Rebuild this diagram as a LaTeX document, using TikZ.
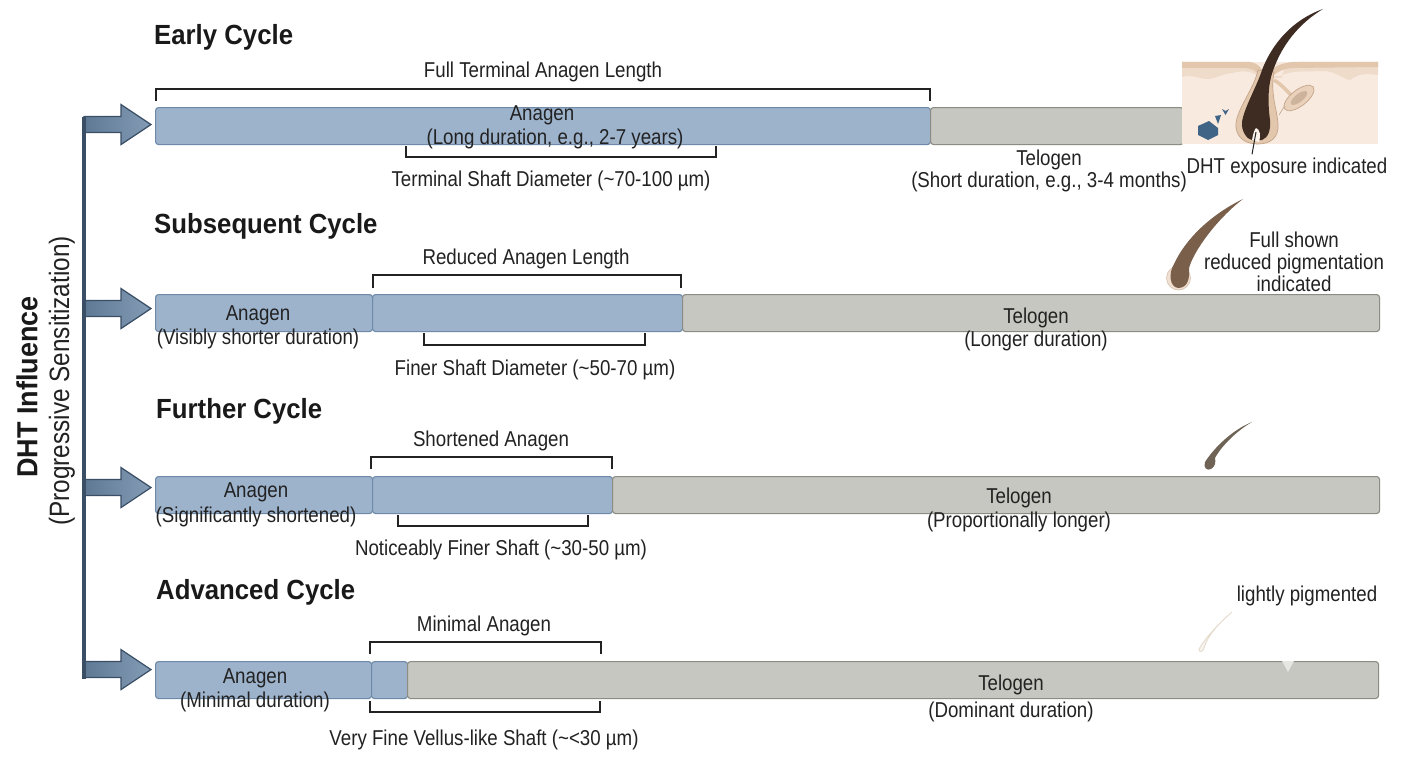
\documentclass[tikz,border=0pt]{standalone}
\usepackage{fontspec}
\usetikzlibrary{calc}
\setmainfont{Liberation Sans}
\newfontfamily\lblfont[FakeStretch=0.87]{Liberation Sans}
\newfontfamily\headfont[FakeStretch=0.93]{Liberation Sans}
\definecolor{anafill}{HTML}{9DB3CC}
\definecolor{anaedge}{HTML}{6E8AA8}
\definecolor{telfill}{HTML}{C7C7C1}
\definecolor{teledge}{HTML}{8C8C85}
\definecolor{trunk}{HTML}{3A4F66}
\definecolor{ink}{HTML}{222222}
\definecolor{skin}{HTML}{F8EADF}
\definecolor{dermis}{HTML}{EFDBCA}
\definecolor{sheath}{HTML}{E3C7AD}
\definecolor{sheathedge}{HTML}{C4A48A}
\definecolor{hairdark}{HTML}{3E2C22}
\definecolor{hairmid}{HTML}{7A5F4B}
\definecolor{hairgrey}{HTML}{6F6356}
\definecolor{hairpale}{HTML}{E4DACB}
\definecolor{dhtblue}{HTML}{3F6485}
\tikzset{
  phasebar/.style={rectangle, rounded corners=3pt, anchor=north west, inner sep=0pt,
    minimum height=37pt, line width=1.1pt},
  anagenbar/.style={phasebar, draw=anaedge, fill=anafill},
  telogenbar/.style={phasebar, draw=teledge, fill=telfill},
  lbl/.style={inner sep=0pt, yshift=-1.5pt, text=ink, font=\lblfont\fontsize{21.5}{25}\selectfont},
  cycletitle/.style={inner sep=0pt, anchor=west, yshift=-2pt, text=black!90, font=\headfont\bfseries\fontsize{27.7}{32}\selectfont},
  bracketline/.style={draw=ink, line width=1.2pt},
  flowarrow/.style={draw=trunk, line width=1.2pt, left color=anaedge!70!trunk, right color=anaedge!85!white, line join=miter},
  trunkline/.style={draw=trunk, line width=3.2pt}
}
% Block arrow from the trunk towards the left end of a bar; #3 lifts it off the bar's centre line
\newcommand{\feedarrow}[3]{%
  \coordinate (#2) at ($(#1.west)+(-4,-#3)$);
  \draw[flowarrow] ($(#2)+(-67,-8)$) -- ($(#2)+(-30,-8)$) -- ($(#2)+(-30,-20)$) -- (#2)
     -- ($(#2)+(-30,20)$) -- ($(#2)+(-30,8)$) -- ($(#2)+(-67,8)$) -- cycle;
}
\begin{document}
\begin{tikzpicture}[x=1pt,y=-1pt]
\useasboundingbox (0,0) rectangle (1408,768);
\fill[white] (0,0) rectangle (1408,768);

% Rows of phase bars
\node[anagenbar, minimum width=775pt] (a1) at (155,107) {};
\node[telogenbar, minimum width=253pt] (t1) at (930,107) {};

\node[anagenbar, minimum width=217pt] (a2) at (155,294) {};
\node[anagenbar, minimum width=310pt] (b2) at (372,294) {};
\node[telogenbar, minimum width=697pt] (t2) at (682,294) {};

\node[anagenbar, minimum width=217pt] (a3) at (155,476) {};
\node[anagenbar, minimum width=240pt] (b3) at (372,476) {};
\node[telogenbar, minimum width=767pt] (t3) at (612,476) {};

\node[anagenbar, minimum width=216pt] (a4) at (155,661) {};
\node[anagenbar, minimum width=36pt] (b4) at (371,661) {};
\node[telogenbar, minimum width=971pt] (t4) at (407,661) {};
\fill[telfill!45!white] (1282,661) -- (1294,661) -- (1288,672) -- cycle;

% Trunk and feed arrows
\feedarrow{a1}{f1}{1.5}
\feedarrow{a2}{f2}{4.5}
\feedarrow{a3}{f3}{7.5}
\feedarrow{a4}{f4}{10.5}
\coordinate (trunktop) at ($(f1)+(-67,-8)$);
\coordinate (trunkend) at ($(f4)+(-67,9)$);
\draw[trunkline] (trunktop) -- (trunkend);

% Side labels
\node[inner sep=0pt, rotate=90, text=black!90, font=\headfont\bfseries\fontsize{29}{32}\selectfont] (dht) at (27,387) {DHT Influence};
\node[inner sep=0pt, rotate=90, text=ink, font=\lblfont\fontsize{28}{31}\selectfont] (prog) at (62,381) {(Progressive Sensitization)};

% Cycle titles
\node[cycletitle] (c1) at (154,35) {Early Cycle};
\node[cycletitle] (c2) at (154,224) {Subsequent Cycle};
\node[cycletitle] (c3) at (156,409) {Further Cycle};
\node[cycletitle] (c4) at (156,590) {Advanced Cycle};

% Brackets over and under the bars
\draw[bracketline] (156,101) -- (156,89) -- (930,89) -- (930,101);
\draw[bracketline] (406,146) -- (406,157) -- (716,157) -- (716,146);
\draw[bracketline] (373,288) -- (373,275) -- (681,275) -- (681,288);
\draw[bracketline] (424,333) -- (424,345) -- (645,345) -- (645,333);
\draw[bracketline] (371,469) -- (371,457) -- (612,457) -- (612,469);
\draw[bracketline] (398,515) -- (398,526) -- (588,526) -- (588,515);
\draw[bracketline] (370,654) -- (370,642) -- (601,642) -- (601,654);
\draw[bracketline] (370,701) -- (370,712) -- (600,712) -- (600,701);

% Row 1 text
\node[lbl] (l1a) at (543,70) {Full Terminal Anagen Length};
\node[lbl] (l1b) at (542,114) {Anagen};
\node[lbl] (l1c) at (555,137) {(Long duration, e.g., 2-7 years)};
\node[lbl] (l1d) at (551,179) {Terminal Shaft Diameter (\textasciitilde 70-100 µm)};
\node[lbl] (l1e) at (1049,158) {Telogen};
\node[lbl] (l1f) at (1049,180) {(Short duration, e.g., 3-4 months)};
\node[lbl] (l1g) at (1287,166) {DHT exposure indicated};

% Row 2 text
\node[lbl] (l2a) at (526,257) {Reduced Anagen Length};
\node[lbl] (l2b) at (258,314) {Anagen};
\node[lbl] (l2c) at (258,337) {(Visibly shorter duration)};
\node[lbl] (l2d) at (535,368) {Finer Shaft Diameter (\textasciitilde 50-70 µm)};
\node[lbl] (l2e) at (1036,316) {Telogen};
\node[lbl] (l2f) at (1036,339) {(Longer duration)};
\node[lbl] (l2g) at (1294,238) {Full shown};
\node[lbl] (l2h) at (1294,262) {reduced pigmentation};
\node[lbl] (l2i) at (1294,282) {indicated};

% Row 3 text
\node[lbl] (l3a) at (491,439) {Shortened Anagen};
\node[lbl] (l3b) at (256,491) {Anagen};
\node[lbl] (l3c) at (256,515) {(Significantly shortened)};
\node[lbl] (l3d) at (501,548) {Noticeably Finer Shaft (\textasciitilde 30-50 µm)};
\node[lbl] (l3e) at (1019,496) {Telogen};
\node[lbl] (l3f) at (1019,520) {(Proportionally longer)};

% Row 4 text
\node[lbl] (l4a) at (484,624) {Minimal Anagen};
\node[lbl] (l4b) at (255,677) {Anagen};
\node[lbl] (l4c) at (255,700) {(Minimal duration)};
\node[lbl] (l4d) at (484,738) {Very Fine Vellus-like Shaft (\textasciitilde <30 µm)};
\node[lbl] (l4e) at (1011,683) {Telogen};
\node[lbl] (l4f) at (1011,710) {(Dominant duration)};
\node[lbl] (l4g) at (1307,594) {lightly pigmented};

% Skin cross-section with follicle
\fill[skin] (1182,62) rectangle (1378,144);
\fill[dermis] (1182,62) -- (1250,62) .. controls (1258,63) and (1262,70) .. (1260,78)
  -- (1282,78) .. controls (1282,68) and (1290,63) .. (1300,62) -- (1378,62) -- (1378,75)
  .. controls (1365,73) and (1358,74) .. (1350,80) .. controls (1342,79) and (1335,70) .. (1320,71)
  .. controls (1305,72) and (1292,70) .. (1280,76) -- (1258,76)
  .. controls (1250,70) and (1240,71) .. (1232,73) .. controls (1222,74) and (1215,79) .. (1207,79)
  .. controls (1200,79) and (1192,74) .. (1182,77) -- cycle;
\fill[sheath] (1182,62) -- (1250,62) .. controls (1256,63) and (1260,66) .. (1262,70)
  -- (1272,70) .. controls (1276,65) and (1284,63) .. (1292,62) -- (1378,62) -- (1378,67)
  -- (1292,68) .. controls (1280,69) and (1276,74) .. (1272,76) -- (1260,76)
  .. controls (1256,70) and (1250,68) .. (1244,68) -- (1182,68) -- cycle;
% Sebaceous gland and its duct
\draw[sheath, line width=3.5pt] (1274,80) .. controls (1282,85) and (1286,90) .. (1292,96);
\draw[sheathedge, line width=0.6pt] (1279,115) -- (1287,102);
\begin{scope}[shift={(1299,98)},rotate=38]
  \draw[sheathedge, fill=sheath!70!skin, line width=0.7pt] (0,0) ellipse [x radius=18pt, y radius=8pt];
  \fill[sheathedge!85!white] (0,0) ellipse [x radius=10pt, y radius=4pt];
\end{scope}
% Outer root sheath
\draw[sheathedge, fill=sheath, line width=0.7pt] (1258,70) .. controls (1254,90) and (1234,112) .. (1236,128)
  .. controls (1238,140) and (1248,144) .. (1258,144) .. controls (1270,144) and (1279,138) .. (1278,124)
  .. controls (1277,108) and (1270,95) .. (1274,72) -- cycle;
% Hair shaft and bulb
\fill[hairdark] (1323,9)
  .. controls (1292,20) and (1272,44) .. (1262,70)
  .. controls (1257,86) and (1244,108) .. (1242,122)
  .. controls (1241,132) and (1248,140) .. (1252,140) -- (1262,140)
  .. controls (1268,138) and (1271,130) .. (1270,120)
  .. controls (1268,105) and (1267,85) .. (1274,68)
  .. controls (1282,46) and (1298,24) .. (1323,9) -- cycle;
\fill[skin!60!white] (1256,128) .. controls (1260,129) and (1261,136) .. (1259,142)
  -- (1252,140) .. controls (1253,135) and (1254,130) .. (1256,128) -- cycle;
\coordinate (papilla) at (1256,132);
\draw[ink, line width=1pt] (papilla) -- ($(l1g.north)+(-35,-3)$);
% DHT molecule marks
\fill[dhtblue] (1198,126) -- (1209,121) -- (1218,128) -- (1218,135) -- (1208,140) -- (1198,135) -- cycle;
\fill[dhtblue] (1215,116) -- (1221,115) -- (1218,124) -- cycle;
\fill[dhtblue] (1222,109) -- (1225.5,111) -- (1229,109) -- (1225.5,115) -- cycle;

% Second-cycle hair, reduced pigment
\fill[sheath!55!white, draw=sheathedge!70!white, line width=0.6pt] (1178.5,278) circle [radius=12pt];
\fill[hairmid] (1243,199)
  .. controls (1212,214) and (1186,238) .. (1174,264)
  .. controls (1168,274) and (1170,287) .. (1178,288)
  .. controls (1187,288) and (1190,280) .. (1189,268)
  .. controls (1194,250) and (1218,218) .. (1243,199) -- cycle;

% Third-cycle hair, short and grey-brown
\fill[hairgrey] (1252,422)
  .. controls (1232,430) and (1214,448) .. (1205,462)
  .. controls (1203,468) and (1207,471) .. (1211,469)
  .. controls (1215,467) and (1216,462) .. (1215,458)
  .. controls (1222,445) and (1238,430) .. (1252,422) -- cycle;

% Fourth-cycle hair, fine and nearly unpigmented
\draw[hairpale, fill=hairpale!35!white, line width=0.8pt] (1232,612)
  .. controls (1216,626) and (1204,640) .. (1199,649)
  .. controls (1199,653) and (1203,652) .. (1204,648)
  .. controls (1207,636) and (1220,622) .. (1232,612) -- cycle;
\end{tikzpicture}
\end{document}
